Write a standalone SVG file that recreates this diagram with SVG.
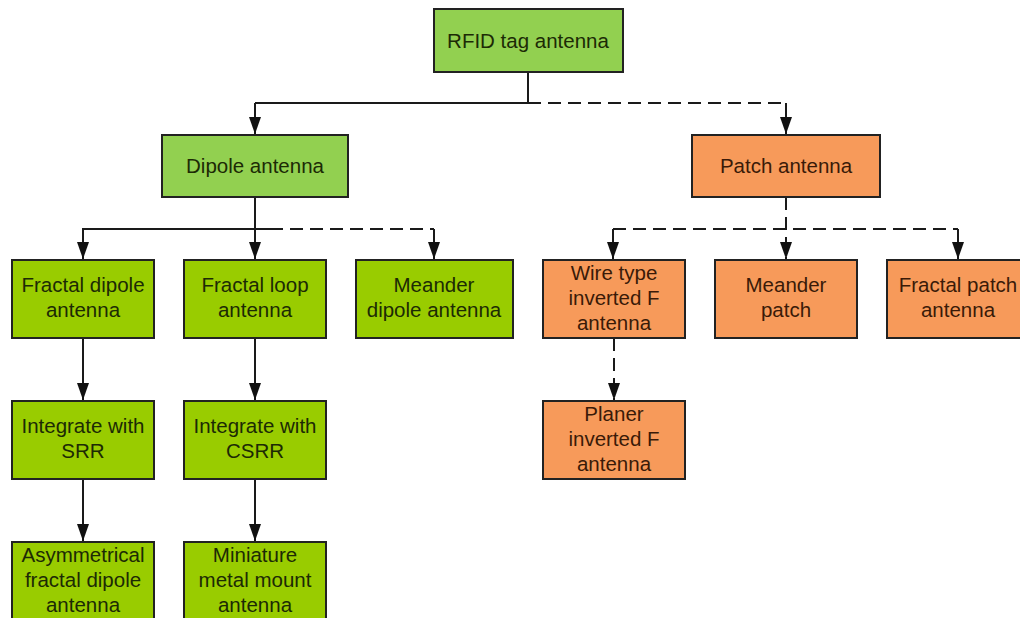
<svg xmlns="http://www.w3.org/2000/svg" width="1020" height="618" viewBox="0 0 1020 618">
<defs>
<style>
.g1{fill:#92d050;stroke:#222;stroke-width:2}
.g2{fill:#99cc00;stroke:#222;stroke-width:2}
.o{fill:#f79a5a;stroke:#222;stroke-width:2}
text{font-family:"Liberation Sans",Arial,sans-serif;font-size:20.5px;text-anchor:middle}
.tg{fill:#1c2a05}
.to{fill:#3a1a08}
.c{fill:none;stroke:#1a1a1a;stroke-width:2}
.d{stroke-dasharray:13 7}
</style>
<marker id="ah" viewBox="0 0 17 12" refX="17" refY="6" markerWidth="17" markerHeight="12" markerUnits="userSpaceOnUse" orient="auto">
<path d="M0,0 L17,6 L0,12 Z" fill="#111"/>
</marker>
</defs>
<rect width="1020" height="618" fill="#fff"/>
<g id="connectors">
<path class="c" d="M528,72 V103 H255"/>
<path class="c" d="M255,103 V134" marker-end="url(#ah)"/>
<path class="c d" d="M528,103 H786"/>
<path class="c" d="M786,103 V134" marker-end="url(#ah)"/>
<path class="c" d="M255,197 V229 H83 V259" marker-end="url(#ah)"/>
<path class="c" d="M255,229 V259" marker-end="url(#ah)"/>
<path class="c" d="M255,229 H270"/>
<path class="c d" d="M270,229 H434"/>
<path class="c" d="M434,229 V259" marker-end="url(#ah)"/>
<path class="c d" d="M786,197 V259" marker-end="url(#ah)"/>
<path class="c d" d="M613,229 H958"/>
<path class="c" d="M613,229 V259" marker-end="url(#ah)"/>
<path class="c" d="M958,229 V259" marker-end="url(#ah)"/>
<path class="c d" d="M614,338 V400" marker-end="url(#ah)"/>
<path class="c" d="M83,338 V400" marker-end="url(#ah)"/>
<path class="c" d="M255,338 V400" marker-end="url(#ah)"/>
<path class="c" d="M83,479 V541" marker-end="url(#ah)"/>
<path class="c" d="M255,479 V541" marker-end="url(#ah)"/>
</g>
<g id="root"><rect class="g1" x="434" y="9" width="189" height="63"/><text class="tg" x="528" y="48">RFID tag antenna</text></g>
<g id="dipole"><rect class="g1" x="162" y="135" width="186" height="62"/><text class="tg" x="255" y="173">Dipole antenna</text></g>
<g id="patch"><rect class="o" x="692" y="135" width="188" height="62"/><text class="to" x="786" y="173">Patch antenna</text></g>
<g id="fractal-dipole"><rect class="g2" x="12" y="260" width="142" height="78"/><text class="tg" x="83" y="292">Fractal dipole</text><text class="tg" x="83" y="317">antenna</text></g>
<g id="fractal-loop"><rect class="g2" x="184" y="260" width="142" height="78"/><text class="tg" x="255" y="292">Fractal loop</text><text class="tg" x="255" y="317">antenna</text></g>
<g id="meander-dipole"><rect class="g2" x="356" y="260" width="157" height="78"/><text class="tg" x="434" y="292">Meander</text><text class="tg" x="434" y="317">dipole antenna</text></g>
<g id="wire-ifa"><rect class="o" x="543" y="260" width="142" height="78"/><text class="to" x="614" y="280">Wire type</text><text class="to" x="614" y="305">inverted F</text><text class="to" x="614" y="330">antenna</text></g>
<g id="meander-patch"><rect class="o" x="715" y="260" width="142" height="78"/><text class="to" x="786" y="292">Meander</text><text class="to" x="786" y="317">patch</text></g>
<g id="fractal-patch"><rect class="o" x="887" y="260" width="142" height="78"/><text class="to" x="958" y="292">Fractal patch</text><text class="to" x="958" y="317">antenna</text></g>
<g id="planer-ifa"><rect class="o" x="543" y="401" width="142" height="78"/><text class="to" x="614" y="421">Planer</text><text class="to" x="614" y="446">inverted F</text><text class="to" x="614" y="471">antenna</text></g>
<g id="srr"><rect class="g2" x="12" y="401" width="142" height="78"/><text class="tg" x="83" y="433">Integrate with</text><text class="tg" x="83" y="458">SRR</text></g>
<g id="csrr"><rect class="g2" x="184" y="401" width="142" height="78"/><text class="tg" x="255" y="433">Integrate with</text><text class="tg" x="255" y="458">CSRR</text></g>
<g id="asym"><rect class="g2" x="12" y="542" width="142" height="80"/><text class="tg" x="83" y="562">Asymmetrical</text><text class="tg" x="83" y="587">fractal dipole</text><text class="tg" x="83" y="612">antenna</text></g>
<g id="miniature"><rect class="g2" x="184" y="542" width="142" height="80"/><text class="tg" x="255" y="562">Miniature</text><text class="tg" x="255" y="587">metal mount</text><text class="tg" x="255" y="612">antenna</text></g>
</svg>
